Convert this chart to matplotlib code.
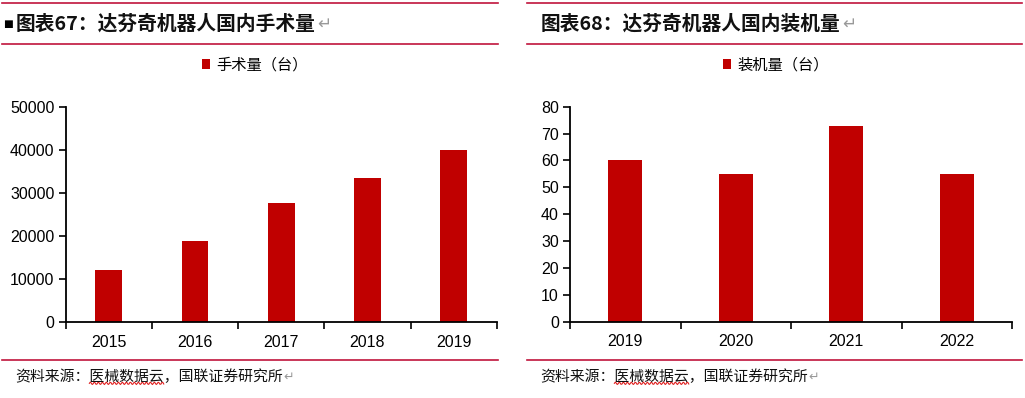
import matplotlib
matplotlib.use("Agg")
import matplotlib.pyplot as plt
import numpy as np
from matplotlib.lines import Line2D

plt.rcParams['font.family'] = ['Noto Sans CJK SC', 'DejaVu Sans']

# ---- data ----
years_left = ["2015", "2016", "2017", "2018", "2019"]
surgeries = [12200, 19000, 27800, 33600, 40000]
left_title = "图表67：达芬奇机器人国内手术量"
left_legend = "手术量（台）"
left_yticks = [0, 10000, 20000, 30000, 40000, 50000]

years_right = ["2019", "2020", "2021", "2022"]
installs = [60, 55, 73, 55]
right_title = "图表68：达芬奇机器人国内装机量"
right_legend = "装机量（台）"
right_yticks = [0, 10, 20, 30, 40, 50, 60, 70, 80]

source = "资料来源：医械数据云，国联证券研究所"

BAR = "#C00000"
LINE = "#C0143C"
W, H = 1025, 398

fig = plt.figure(figsize=(W / 100, H / 100), dpi=100)

def fx(px):
    return px / W

def fy(py):
    return 1 - py / H

num_font = ['Liberation Sans', 'Noto Sans CJK SC']

def make_panel(rect, cats, vals, yticks, legend_label, legend_xy):
    ax = fig.add_axes(rect)
    x = np.arange(len(cats))
    bars = ax.bar(x, vals, width=0.31, color=BAR, label=legend_label)
    ax.set_xlim(-0.5, len(cats) - 0.5)
    ax.set_ylim(yticks[0], yticks[-1])
    ax.set_yticks(yticks)
    ax.set_yticklabels([str(t) for t in yticks], family=num_font, fontsize=11.5)
    ax.set_xticks(x)
    ax.set_xticklabels(cats, family=num_font, fontsize=11.5)
    ax.tick_params(axis='x', which='major', length=0, pad=9)
    ax.set_xticks(np.arange(-0.5, len(cats), 1.0), minor=True)
    ax.tick_params(axis='x', which='minor', length=5, width=1.2, direction='out')
    ax.tick_params(axis='y', length=5, width=1.2, direction='out', pad=3)
    for s in ['top', 'right']:
        ax.spines[s].set_visible(False)
    for s in ['left', 'bottom']:
        ax.spines[s].set_linewidth(1.3)
        ax.spines[s].set_color('black')
    ax.legend(handles=[bars], labels=[legend_label], loc='center',
              bbox_to_anchor=legend_xy, bbox_transform=fig.transFigure,
              frameon=False, handlelength=0.55, handleheight=0.55,
              handletextpad=0.4, prop={'family': ['Noto Sans CJK SC'], 'size': 11})
    return ax

axL = make_panel([fx(65.7), fy(322.3), fx(431), (322.3 - 107.3) / H],
                 years_left, surgeries, left_yticks, left_legend,
                 (fx(255), fy(65)))
axR = make_panel([fx(570), fy(321.7), fx(442), (321.7 - 106.7) / H],
                 years_right, installs, right_yticks, right_legend,
                 (fx(776), fy(65)))

# header / footer rules
for (x0, x1) in [(2, 498), (527, 1022)]:
    for yy in [3.3, 44, 360]:
        fig.add_artist(Line2D([fx(x0), fx(x1)], [fy(yy), fy(yy)],
                              color=LINE, lw=1.2, transform=fig.transFigure))

# titles
fig.text(fx(3.5), fy(24), "■", fontsize=7.5, color='black', va='center',
         family=['DejaVu Sans'])
tl = fig.text(fx(16), fy(24), left_title, fontsize=14.2, fontweight='bold',
              va='center', color='#111111')
tr = fig.text(fx(541), fy(24), right_title, fontsize=14.2, fontweight='bold',
              va='center', color='#111111')
sl = fig.text(fx(15), fy(377), source, fontsize=10.7, va='center', color='#111111')
sr = fig.text(fx(540), fy(377), source, fontsize=10.7, va='center', color='#111111')

fig.canvas.draw()
r = fig.canvas.get_renderer()
for t in [tl, tr, sl, sr]:
    bb = t.get_window_extent(renderer=r)
    fig.text(bb.x1 / W + 0.001, t.get_position()[1], "↵", color='#999999',
             fontsize=t.get_fontsize() * 0.85, va='center',
             family=['DejaVu Sans'])

# spell-check wavy underline under 医械数据云
for t in [sl, sr]:
    bb = t.get_window_extent(renderer=r)
    n = len(source)
    cw = (bb.x1 - bb.x0) / n
    a0 = bb.x0 + cw * 5
    a1 = bb.x0 + cw * 10
    xs = np.linspace(a0, a1, 80)
    ys = bb.y0 + 1.0 + 1.2 * np.sin((xs - a0) / 2.0 * np.pi)
    fig.add_artist(Line2D(xs / W, ys / H, color='#E02020', lw=0.8,
                          transform=fig.transFigure))

fig.savefig("out.png", dpi=100)
